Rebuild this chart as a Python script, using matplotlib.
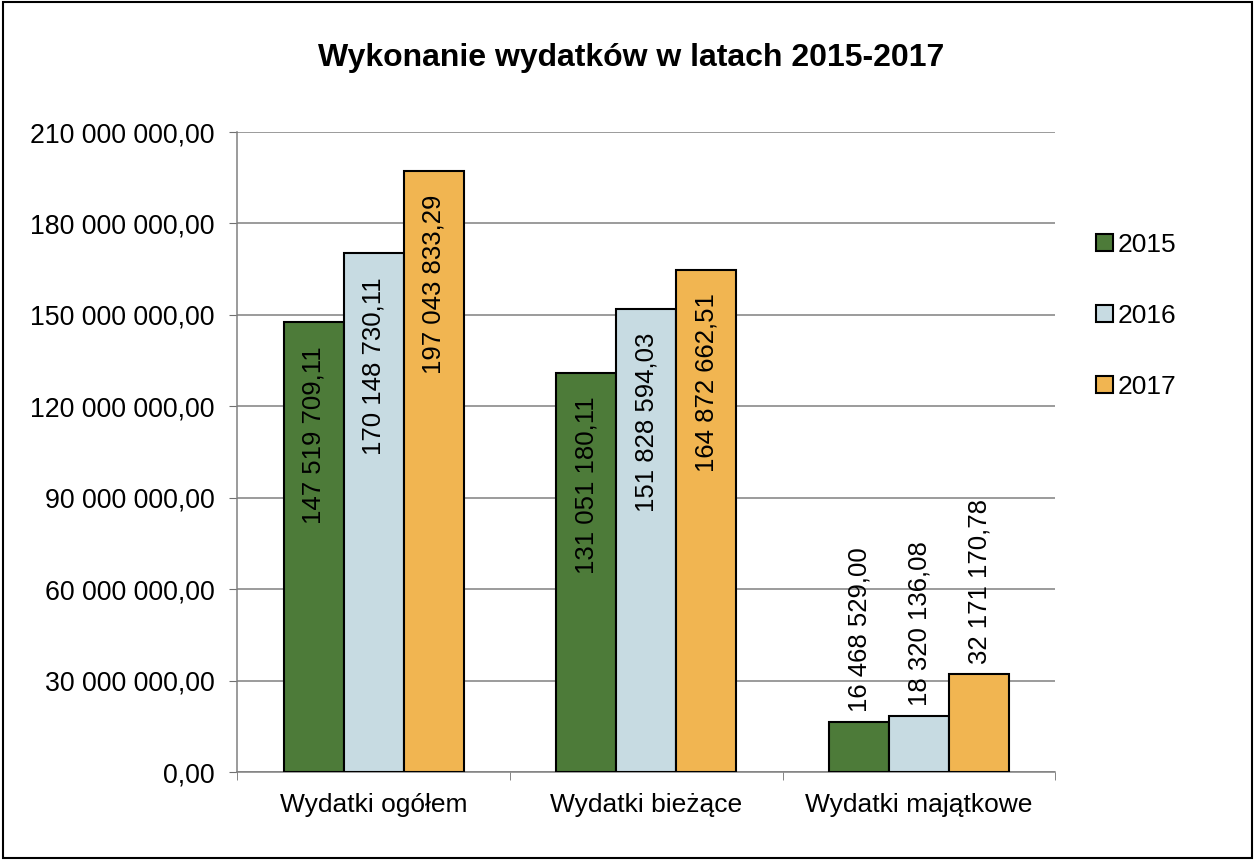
import numpy as np
import matplotlib
matplotlib.use("Agg")
import matplotlib.pyplot as plt
from matplotlib.patches import Rectangle

plt.rcParams["font.family"] = ["Liberation Sans", "DejaVu Sans"]

categories = ["Wydatki ogółem", "Wydatki bieżące", "Wydatki majątkowe"]
years = ["2015", "2016", "2017"]
values_2015 = [147519709.11, 131051180.11, 16468529.00]
values_2016 = [170148730.11, 151828594.03, 18320136.08]
values_2017 = [197043833.29, 164872662.51, 32171170.78]
series = [values_2015, values_2016, values_2017]
colors = ["#4d7b39", "#c7dbe2", "#f1b551"]
yticks = np.arange(0, 210_000_001, 30_000_000)


def fmt(v):
    s = f"{v:,.2f}"
    return s.replace(",", " ").replace(".", ",")


fig = plt.figure(figsize=(12.55, 8.6), dpi=100)
ax = fig.add_axes([0.189, 0.1023, 0.652, 0.7442])

x = np.arange(len(categories))
width = 0.22
for i, (vals, year, col) in enumerate(zip(series, years, colors)):
    pos = x + (i - 1) * width
    ax.bar(pos, vals, width, color=col, edgecolor="black", linewidth=1.5,
           label=year, zorder=3)
    for xi, v in zip(pos, vals):
        if v > 60_000_000:
            # label inside the bar, near its top
            ax.annotate(fmt(v), (xi, v), xytext=(0, -17), textcoords="offset points",
                        rotation=90, ha="center", va="top", fontsize=18.5, zorder=4)
        else:
            ax.annotate(fmt(v), (xi, v), xytext=(0, 7), textcoords="offset points",
                        rotation=90, ha="center", va="bottom", fontsize=18.5, zorder=4)

ax.set_xlim(-0.5, 2.5)
ax.set_ylim(0, 210_000_000)
ax.set_yticks(yticks)
ax.set_yticklabels([fmt(t) for t in yticks], fontsize=19.3)
ax.set_xticks(x)
ax.set_xticklabels(categories, fontsize=19)
ax.set_xticks([-0.5, 0.5, 1.5, 2.5], minor=True)
ax.tick_params(axis="x", which="major", length=0, pad=15)
ax.tick_params(axis="x", which="minor", length=6, color="#707070", direction="out")
ax.tick_params(axis="y", length=5.5, color="#707070", direction="out", pad=11)

ax.grid(axis="y", color="#808080", linewidth=1.1, zorder=0)
for s in ["top", "right"]:
    ax.spines[s].set_visible(False)
for s in ["left", "bottom"]:
    ax.spines[s].set_color("#808080")
    ax.spines[s].set_linewidth(1.1)

fig.text(0.503, 0.932, "Wykonanie wydatków w latach 2015-2017", fontsize=23,
         fontweight="bold", ha="center", va="center")

ax.legend(loc="center left", bbox_to_anchor=(1.02, 0.713), frameon=False, fontsize=19,
          handlelength=0.65, handleheight=0.65, handletextpad=0.2, labelspacing=1.78)

fig.patches.append(Rectangle((0.002, 0.002), 0.996, 0.996, transform=fig.transFigure,
                             fill=False, edgecolor="black", linewidth=1.5))

fig.savefig("out.png", dpi=100)
